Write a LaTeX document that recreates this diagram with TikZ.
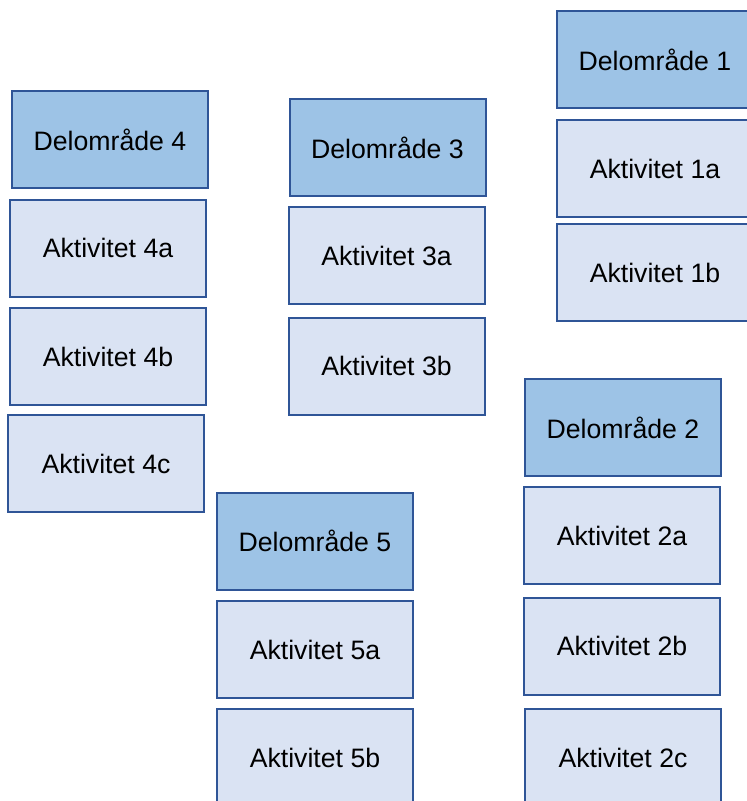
\documentclass[tikz,border=0pt]{standalone}
\usepackage{fontspec}
\setmainfont{Liberation Sans}
\definecolor{dfill}{HTML}{9DC3E6}
\definecolor{afill}{HTML}{DAE3F3}
\definecolor{bline}{HTML}{2F5597}
\tikzset{
  box/.style={draw=bline, line width=1.5pt, rectangle, inner sep=0pt,
    minimum width=147pt, minimum height=72.75pt, font=\fontsize{20}{24}\selectfont, text=black},
  delbox/.style={box, fill=dfill},
  aktbox/.style={box, fill=afill}
}
\begin{document}
\begin{tikzpicture}[x=0.75pt,y=-0.75pt]
\useasboundingbox (0,0) rectangle (747,801);
\clip (0,0) rectangle (747,801);
\fill[white] (0,0) rectangle (747,801);
\node[delbox] (d1) at (655,59.5) {Delområde 1};
\node[aktbox] (a1a) at (655,168.5) {Aktivitet 1a};
\node[aktbox] (a1b) at (655,272.5) {Aktivitet 1b};
\node[delbox] (d4) at (110,139.5) {Delområde 4};
\node[aktbox] (a4a) at (108,248) {Aktivitet 4a};
\node[aktbox] (a4b) at (108,356.5) {Aktivitet 4b};
\node[aktbox] (a4c) at (106,463.5) {Aktivitet 4c};
\node[delbox] (d3) at (387.5,147.5) {Delområde 3};
\node[aktbox] (a3a) at (386.5,255.5) {Aktivitet 3a};
\node[aktbox] (a3b) at (386.5,366) {Aktivitet 3b};
\node[delbox] (d2) at (623,427.5) {Delområde 2};
\node[aktbox] (a2a) at (622,535.5) {Aktivitet 2a};
\node[aktbox] (a2b) at (622,646) {Aktivitet 2b};
\node[aktbox] (a2c) at (623,757.5) {Aktivitet 2c};
\node[delbox] (d5) at (315,541) {Delområde 5};
\node[aktbox] (a5a) at (315,649.5) {Aktivitet 5a};
\node[aktbox] (a5b) at (315,757.5) {Aktivitet 5b};
\end{tikzpicture}
\end{document}
